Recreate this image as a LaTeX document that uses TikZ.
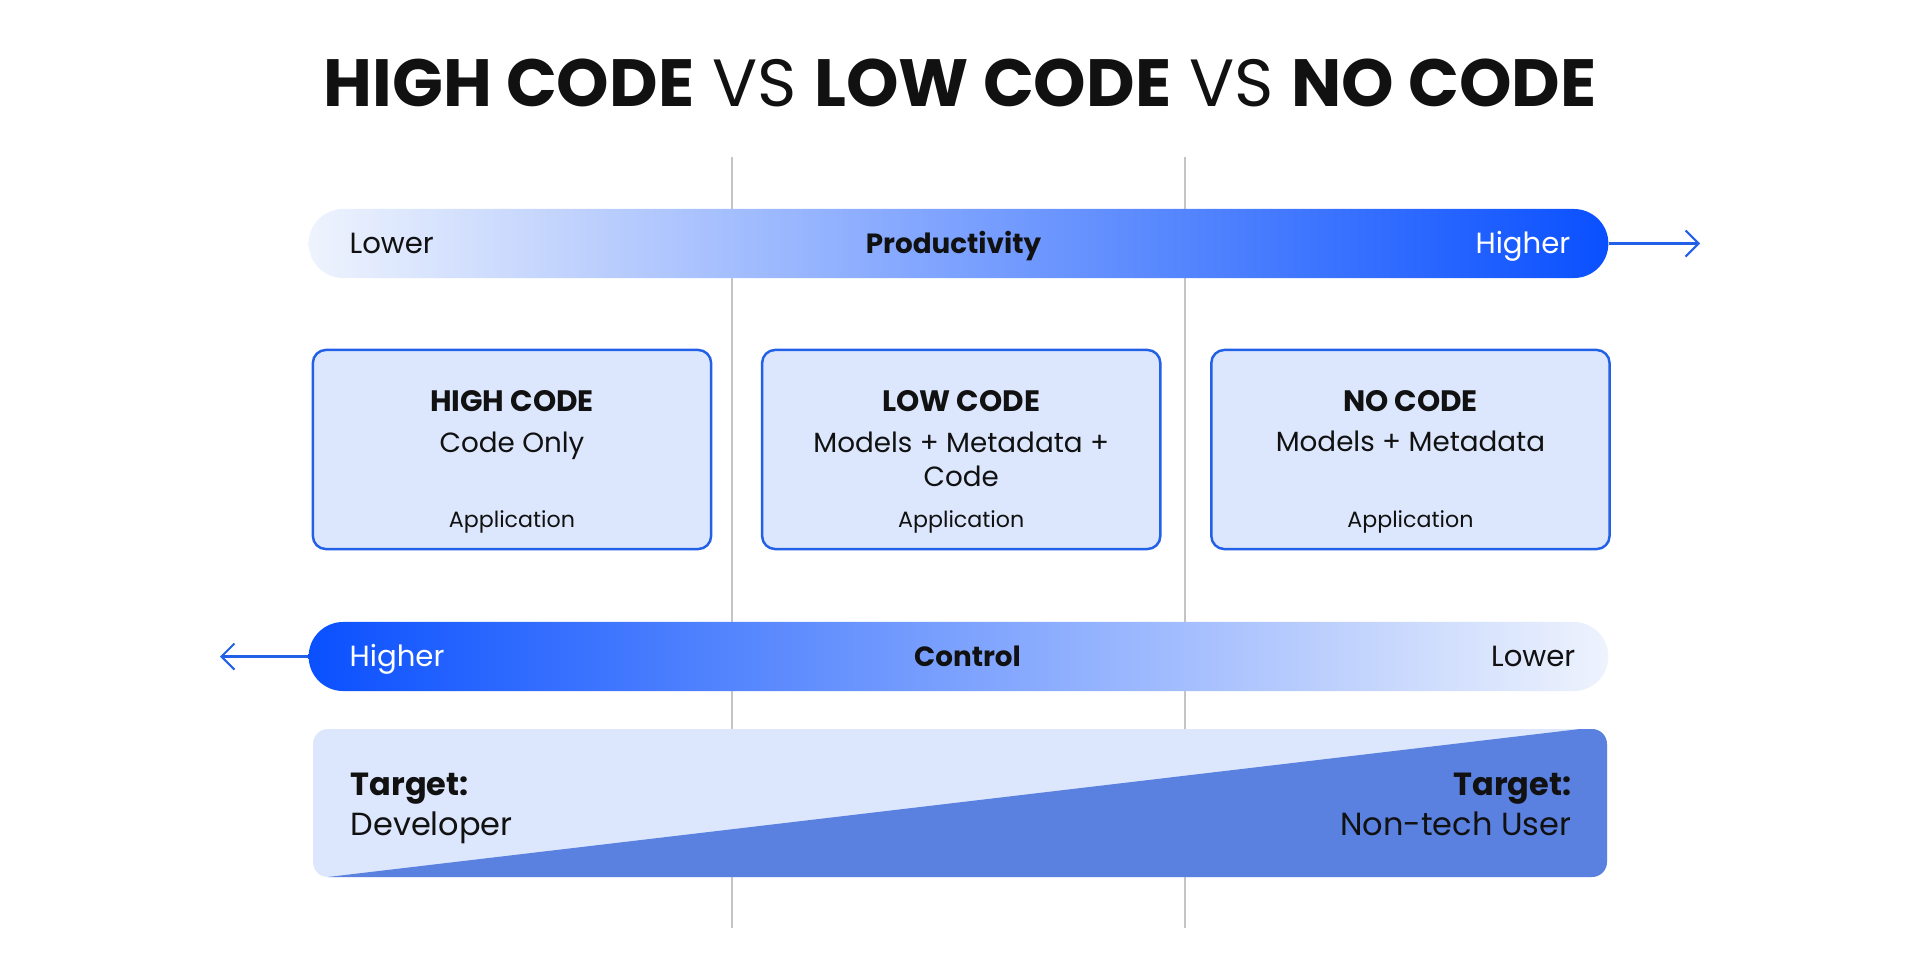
\documentclass[tikz,border=0pt]{standalone}
\usepackage{fontspec}
\setmainfont{Poppins}
\usetikzlibrary{arrows.meta,positioning}
\definecolor{lcblue}{HTML}{0A50FF}
\definecolor{lcpale}{HTML}{EEF3FD}
\definecolor{lcfill}{HTML}{DCE7FD}
\definecolor{lcedge}{HTML}{2360E8}
\definecolor{lcdark}{HTML}{5A80E0}
\definecolor{lcgrid}{HTML}{C4C4C4}
\definecolor{lcink}{HTML}{111111}

\begin{document}
\begin{tikzpicture}[
    x=0.01cm,y=-0.01cm,
    node distance=4.85mm,
    every node/.style={text=lcink,inner sep=0pt,align=center},
    bar/.style={rectangle,rounded corners=3.45mm,minimum width=12.99cm,minimum height=6.9mm},
    box/.style={rectangle,rounded corners=1.3mm,draw=lcedge,line width=0.7pt,fill=lcfill,minimum width=3.98cm,minimum height=1.99cm},
    barlabel/.style={font=\fontsize{8.3}{10}\selectfont},
    barname/.style={font=\fontsize{7.9}{10}\selectfont\bfseries},
    boxhead/.style={font=\fontsize{8.4}{10}\selectfont\bfseries},
    boxbody/.style={font=\fontsize{7.9}{9.7}\selectfont},
    boxfoot/.style={font=\fontsize{6.3}{8}\selectfont},
    target/.style={font=\fontsize{9.1}{11.2}\selectfont,align=left},
    arr/.style={-{Straight Barb[length=1.3mm,width=2.6mm]},line width=0.6pt,color=lcedge},
    grid/.style={lcgrid,line width=0.45pt}
  ]
    \useasboundingbox (0,0) rectangle (1920,960);
    % column rules
    \draw[grid] (732,157) -- (732,928);
    \draw[grid] (1185,157) -- (1185,928);

    \node[font=\fontsize{19}{22}\selectfont] (title) at (960,83)
      {\textbf{HIGH CODE} VS \textbf{LOW CODE} VS \textbf{NO CODE}};

    % productivity bar
    \node[bar,left color=lcpale,right color=lcblue] (prod) at (958.5,243.5) {};
    \node[barlabel,anchor=base west] (prodlow) at ([xshift=4.1mm,yshift=-0.95mm]prod.west) {Lower};
    \node[barlabel,anchor=base east,text=white] (prodhigh) at ([xshift=-3.8mm,yshift=-0.95mm]prod.east) {Higher};
    \node[barname,anchor=base] (prodname) at ([xshift=-0.05cm,yshift=-0.95mm]prod.center) {Productivity};
    \coordinate (prodend) at (1700,243.5);
    \draw[arr] (prod.east) -- (prodend);

    % the three kinds
    \node[box] (high) at (512,449.5) {};
    \node[box,right=of high] (low) {};
    \node[box,right=of low] (nocode) {};
    \node[boxhead] (highhead) at ([yshift=-0.52cm]high.north) {HIGH CODE};
    \node[boxbody,below=1.95mm of highhead] (highbody) {Code Only};
    \node[boxfoot] (highfoot) at ([yshift=0.28cm]high.south) {Application};
    \node[boxhead] (lowhead) at ([yshift=-0.52cm]low.north) {LOW CODE};
    \node[boxbody,below=1.9mm of lowhead] (lowbody) {Models + Metadata +\\Code};
    \node[boxfoot] (lowfoot) at ([yshift=0.28cm]low.south) {Application};
    \node[boxhead] (nohead) at ([yshift=-0.52cm]nocode.north) {NO CODE};
    \node[boxbody,below=1.8mm of nohead] (nobody) {Models + Metadata};
    \node[boxfoot] (nofoot) at ([yshift=0.28cm]nocode.south) {Application};

    % control bar
    \node[bar,left color=lcblue,right color=lcpale] (ctrl) at (958.5,656.5) {};
    \node[barlabel,anchor=base west,text=white] (ctrlhigh) at ([xshift=4.1mm,yshift=-0.95mm]ctrl.west) {Higher};
    \node[barlabel,anchor=base east] (ctrllow) at ([xshift=-3.3mm,yshift=-0.95mm]ctrl.east) {Lower};
    \node[barname,anchor=base] (ctrlname) at ([xshift=0.09cm,yshift=-0.95mm]ctrl.center) {Control};
    \coordinate (ctrlend) at (220,656.5);
    \draw[arr] (ctrl.west) -- (ctrlend);

    % target panel
    \fill[lcfill,rounded corners=1.5mm] (313,729) rectangle (1607,877);
    \begin{scope}
      \clip[rounded corners=1.5mm] (313,729) rectangle (1607,877);
      \fill[lcdark] (328,877) -- (1580,729) -- (1607,729) -- (1607,877) -- cycle;
    \end{scope}
    \node[target,anchor=base west] (dev) at (350,835) {\textbf{Target:}\\Developer};
    \node[target,anchor=base east,align=right] (user) at (1572,835) {\textbf{Target:}\\Non-tech User};
  \end{tikzpicture}
\end{document}
